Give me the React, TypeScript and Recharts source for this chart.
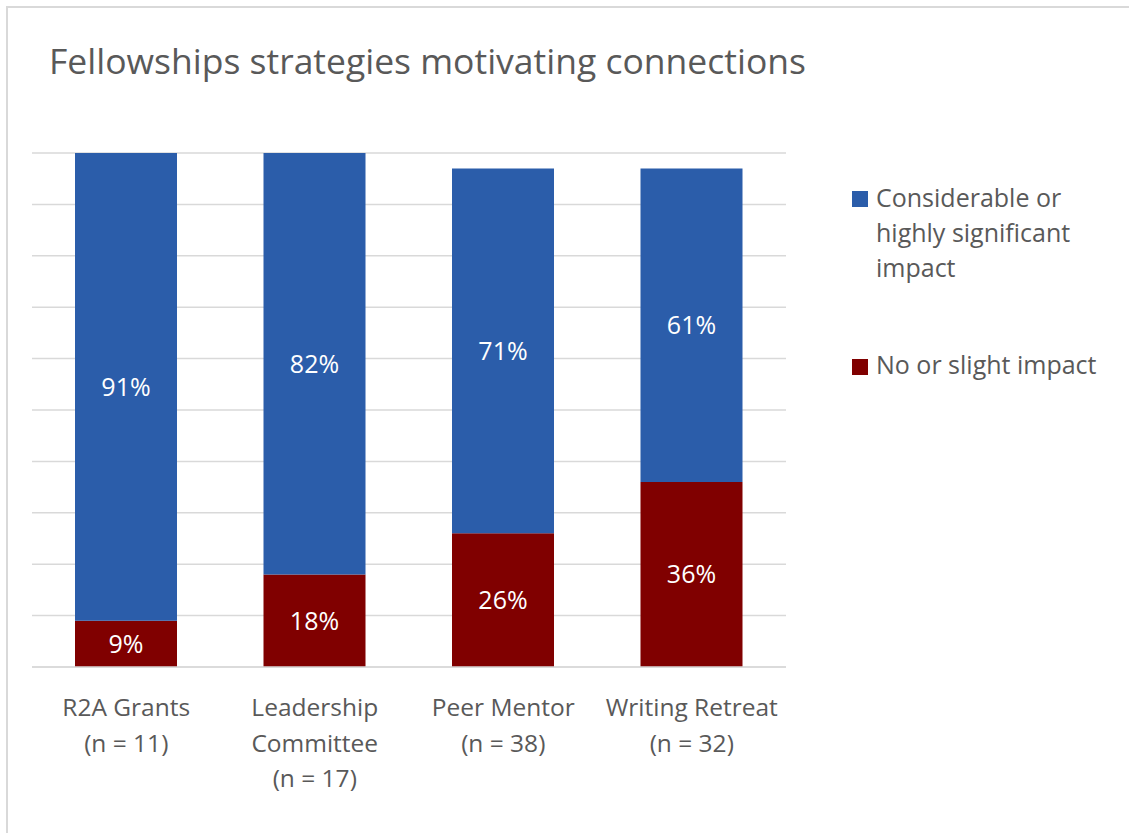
import React from 'react';
import { BarChart, Bar, XAxis, YAxis, CartesianGrid, LabelList } from 'recharts';

const categories = ['R2A Grants\n(n = 11)', 'Leadership\nCommittee\n(n = 17)', 'Peer Mentor\n(n = 38)', 'Writing Retreat\n(n = 32)'];
const considerable = [91, 82, 71, 61];
const noImpact = [9, 18, 26, 36];
const yTicks = [0, 10, 20, 30, 40, 50, 60, 70, 80, 90, 100];

const data = categories.map((name, i) => ({ name, considerable: considerable[i], none: noImpact[i] }));

const FONT = '"Open Sans", "Noto Sans", sans-serif';
const GREY = '#595959';
const BLUE = '#2B5DAA';
const RED = '#800000';

const CategoryTick = (props: any) => {
  const { x, y, payload } = props;
  const lines = String(payload.value).split('\n');
  return (
    <text x={x} y={y} textAnchor="middle" fill={GREY} fontSize={24.5} fontFamily={FONT}>
      {lines.map((l, i) => (
        <tspan key={i} x={x} dy={i === 0 ? 41 : 35.5}>{l}</tspan>
      ))}
    </text>
  );
};

const LegendBox = () => (
  <div style={{ position: 'absolute', left: 852, top: 180, fontFamily: FONT, fontSize: 25, color: GREY, lineHeight: '35px' }}>
    <div style={{ display: 'flex', alignItems: 'flex-start' }}>
      <div style={{ width: 16, height: 16, background: BLUE, marginTop: 11, marginRight: 8 }} />
      <div style={{ whiteSpace: 'nowrap' }}>Considerable or<br />highly significant<br />impact</div>
    </div>
    <div style={{ display: 'flex', alignItems: 'flex-start', marginTop: 62 }}>
      <div style={{ width: 16, height: 16, background: RED, marginTop: 12, marginRight: 8 }} />
      <div style={{ whiteSpace: 'nowrap' }}>No or slight impact</div>
    </div>
  </div>
);

export default function App() {
  return (
    <div style={{ position: 'absolute', left: 0, top: 0, width: 1129, height: 833, overflow: 'hidden', background: '#fff' }}>
      <div style={{ position: 'absolute', left: 6, top: 6, width: 1140, height: 850, border: '2px solid #d9d9d9', boxSizing: 'border-box' }} />
      <div style={{ position: 'absolute', left: 49, top: 36, fontFamily: FONT, fontSize: 35.5, color: GREY, whiteSpace: 'nowrap', lineHeight: 'normal' }}>
        Fellowships strategies motivating connections
      </div>
      <div style={{ position: 'absolute', left: 0, top: 0 }}>
        <BarChart width={1129} height={833} data={data} margin={{ top: 153, right: 343, bottom: 136, left: 32 }}>
          <CartesianGrid vertical={false} stroke="#d9d9d9" strokeWidth={1.5} />
          <XAxis dataKey="name" height={30} axisLine={{ stroke: '#d9d9d9', strokeWidth: 1.5 }} tickLine={false} tick={<CategoryTick />} interval={0} />
          <YAxis hide domain={[0, 100]} ticks={yTicks} />
          <Bar dataKey="none" stackId="a" fill={RED} barSize={102} isAnimationActive={false} name="No or slight impact">
            <LabelList dataKey="none" position="center" fill="#fff" fontSize={25} fontFamily={FONT} formatter={(v: any) => `${v}%`} />
          </Bar>
          <Bar dataKey="considerable" stackId="a" fill={BLUE} barSize={102} isAnimationActive={false} name="Considerable or highly significant impact">
            <LabelList dataKey="considerable" position="center" fill="#fff" fontSize={25} fontFamily={FONT} formatter={(v: any) => `${v}%`} />
          </Bar>
        </BarChart>
      </div>
      <LegendBox />
    </div>
  );
}
